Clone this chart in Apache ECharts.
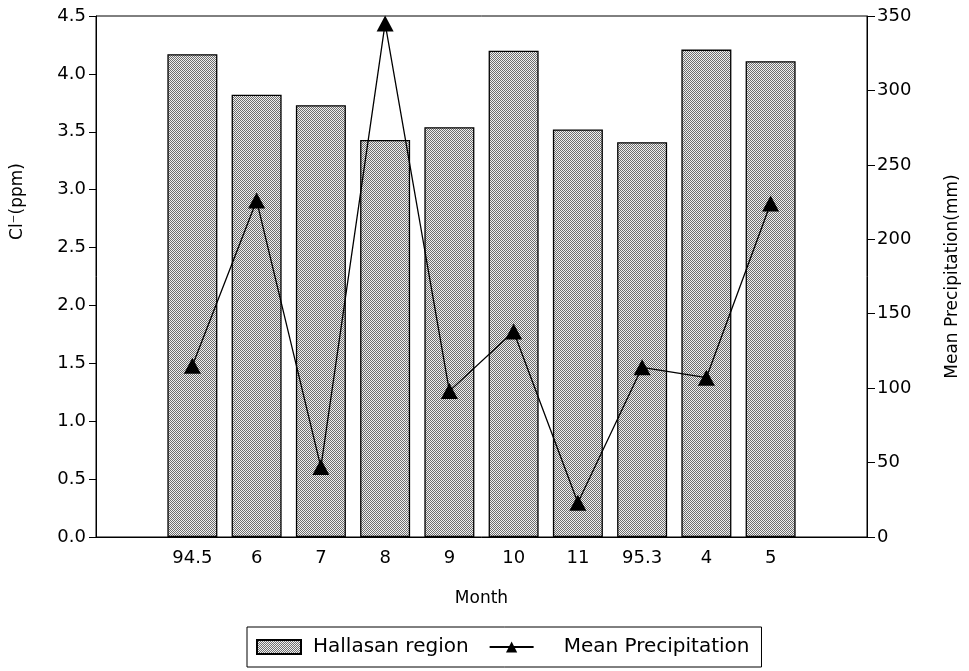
<!DOCTYPE html>
<html>
<head>
<meta charset="utf-8">
<script src="https://cdn.jsdelivr.net/npm/echarts@6/dist/echarts.min.js"></script>
<style>html,body{margin:0;padding:0;background:#fff}#c{width:969px;height:671px}</style>
</head>
<body>
<div id="c"></div>
<script>
var months = ['', '94.5', '6', '7', '8', '9', '10', '11', '95.3', '4', '5', ''];
var chloride = [null, 4.17, 3.82, 3.73, 3.43, 3.54, 4.20, 3.52, 3.41, 4.21, 4.11, null];
var precipitation = [null, 115, 226, 47, 345, 98, 138, 23, 114, 107, 224, null];

var pc = document.createElement('canvas');
pc.width = 2; pc.height = 2;
var g = pc.getContext('2d');
g.fillStyle = '#f0f0f0'; g.fillRect(0, 0, 2, 2);
g.fillStyle = '#6e6e6e'; g.fillRect(0, 0, 1, 1); g.fillRect(1, 1, 1, 1);
var pattern = { image: pc, repeat: 'repeat' };

var FONT = 'DejaVu Sans';
var chart = echarts.init(document.getElementById('c'), null, { renderer: 'canvas' });
chart.setOption({
  animation: false,
  backgroundColor: '#fff',
  textStyle: { fontFamily: FONT, color: '#000' },
  grid: { left: 96, right: 99, top: 16, bottom: 134, show: true, borderColor: '#000', borderWidth: 1, backgroundColor: 'transparent' },
  legend: {
    left: 247, top: 627,
    padding: [10, 12, 10, 9],
    borderColor: '#000', borderWidth: 1,
    itemWidth: 44, itemHeight: 14, itemGap: 20,
    textStyle: { fontFamily: FONT, fontSize: 20, color: '#000', padding: [0, 0, 0, 7] },
    data: [
      { name: 'Hallasan region', icon: 'rect' },
      { name: 'Mean Precipitation', textStyle: { padding: [0, 0, 0, 25] } }
    ]
  },
  xAxis: {
    type: 'category', data: months, boundaryGap: true,
    name: 'Month', nameLocation: 'middle', nameGap: 53,
    nameTextStyle: { fontFamily: FONT, fontSize: 17, color: '#000' },
    axisLine: { lineStyle: { color: '#000', width: 1 } },
    axisTick: { length: 8, lineStyle: { color: '#000' }, interval: function (i) { return i >= 2 && i <= 10; } },
    axisLabel: { interval: 0, fontSize: 18, color: '#000', margin: 12, fontFamily: FONT }
  },
  yAxis: [{
    type: 'value', min: 0, max: 4.5, interval: 0.5, position: 'left',
    name: 'Cl\u207B(ppm)', nameLocation: 'middle', nameGap: 70, nameRotate: 90,
    nameTextStyle: { fontFamily: FONT, fontSize: 17, color: '#000', padding: [0, 0, 0, 150] },
    axisLine: { show: true, lineStyle: { color: '#000', width: 1 } },
    axisTick: { show: true, length: 7, lineStyle: { color: '#000' } },
    axisLabel: { fontSize: 18, color: '#000', margin: 10, fontFamily: FONT, formatter: function (v) { return v.toFixed(1); } },
    splitLine: { show: false }
  }, {
    type: 'value', min: 0, max: 350, interval: 50, position: 'right',
    name: 'Mean Precipitation(mm)', nameLocation: 'middle', nameGap: 77, nameRotate: 90,
    nameTextStyle: { fontFamily: FONT, fontSize: 17, color: '#000' },
    axisLine: { show: true, lineStyle: { color: '#000', width: 1 } },
    axisTick: { show: true, length: 8, lineStyle: { color: '#000' } },
    axisLabel: { fontSize: 18, color: '#000', margin: 10, fontFamily: FONT },
    splitLine: { show: false }
  }],
  series: [{
    name: 'Hallasan region', type: 'bar', yAxisIndex: 0, data: chloride,
    barWidth: 50,
    itemStyle: { color: pattern, borderColor: '#000', borderWidth: 1.3 }
  }, {
    name: 'Mean Precipitation', type: 'line', yAxisIndex: 1, data: precipitation,
    symbol: 'triangle', symbolSize: [17, 16], showSymbol: true,
    lineStyle: { color: '#000', width: 1.3 },
    itemStyle: { color: '#000' }
  }]
});
</script>
</body>
</html>
